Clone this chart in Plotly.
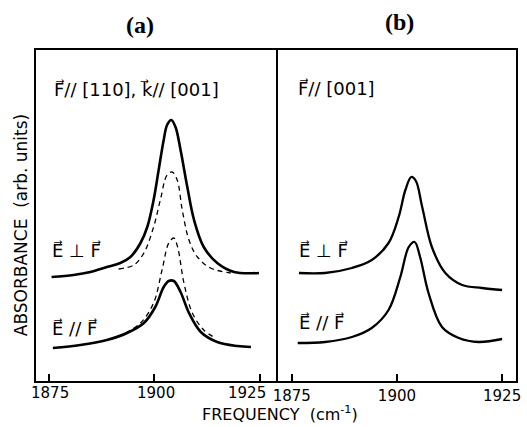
import plotly.graph_objects as go

# ---- data (frequency in cm^-1, absorbance in arbitrary units) ----
a_perp_solid_f = [1875.6, 1880.8, 1884.8, 1888.7, 1891.9, 1894.3, 1896.7, 1898.3, 1899.8, 1901.0,
                  1902.2, 1903.0, 1904.0, 1905.0, 1906.2, 1907.8, 1909.4, 1911.7, 1914.9, 1918.9, 1924.8]
a_perp_solid_y = [104, 106, 109, 114, 118, 124, 138, 154, 181, 211,
                  241, 256, 261, 254, 231, 194, 161, 134, 118, 109, 108]

a_perp_dash_f = [1891.5, 1895.1, 1897.5, 1899.8, 1901.4, 1903.0, 1904.2, 1905.4, 1906.6, 1908.2,
                 1910.2, 1913.3, 1918.1]
a_perp_dash_y = [112, 116, 128, 154, 181, 206, 209, 201, 171, 141,
                 124, 113, 108]

a_par_solid_f = [1875.9, 1882.4, 1888.7, 1893.5, 1897.5, 1900.2, 1902.2, 1903.4, 1904.6, 1906.2,
                 1908.2, 1911.0, 1914.9, 1919.7, 1922.9]
a_par_solid_y = [33, 36, 41, 48, 58, 74, 94, 100, 100, 89,
                 68, 49, 39, 35, 34]

a_par_dash_f = [1893.1, 1896.7, 1899.8, 1901.8, 1903.4, 1904.6, 1905.5, 1907.0, 1909.0, 1911.7, 1914.5]
a_par_dash_y = [48, 58, 78, 111, 138, 143, 134, 98, 68, 51, 43]

b_perp_f = [1876.7, 1882.9, 1889.3, 1894.0, 1898.0, 1900.4, 1902.0, 1903.4, 1904.5, 1906.0,
            1908.3, 1911.5, 1915.5, 1920.2, 1925.0]
b_perp_y = [108, 108, 113, 121, 138, 164, 191, 204, 200, 174,
            134, 108, 96, 93, 91]

b_par_f = [1876.4, 1882.9, 1889.3, 1894.0, 1898.0, 1900.8, 1902.8, 1904.2, 1905.5, 1907.5,
           1910.7, 1914.7, 1919.4, 1925.0]
b_par_y = [38, 39, 44, 53, 71, 104, 134, 139, 124, 88,
           54, 43, 39, 42]

tick_vals = [1875, 1900, 1925]
tick_text = ["1875", "1900", "1925"]

ARROW = "\u20d7"
E = "E" + ARROW
F = "F" + ARROW
K = "k" + ARROW

fig = go.Figure()

solid = dict(color="black", width=2.6)
dash = dict(color="black", width=1.3, dash="5px,4px")

fig.add_trace(go.Scatter(x=a_perp_solid_f, y=a_perp_solid_y, mode="lines", line=solid,
                         line_shape="spline", xaxis="x", yaxis="y"))
fig.add_trace(go.Scatter(x=a_perp_dash_f, y=a_perp_dash_y, mode="lines", line=dash,
                         line_shape="spline", xaxis="x", yaxis="y"))
fig.add_trace(go.Scatter(x=a_par_solid_f, y=a_par_solid_y, mode="lines", line=solid,
                         line_shape="spline", xaxis="x", yaxis="y"))
fig.add_trace(go.Scatter(x=a_par_dash_f, y=a_par_dash_y, mode="lines", line=dash,
                         line_shape="spline", xaxis="x", yaxis="y"))
fig.add_trace(go.Scatter(x=b_perp_f, y=b_perp_y, mode="lines", line=dict(color="black", width=2.3),
                         line_shape="spline", xaxis="x2", yaxis="y2"))
fig.add_trace(go.Scatter(x=b_par_f, y=b_par_y, mode="lines", line=dict(color="black", width=2.3),
                         line_shape="spline", xaxis="x2", yaxis="y2"))

tickfont = dict(family="DejaVu Sans", size=15, color="black")
xcommon = dict(tickvals=tick_vals, ticktext=tick_text, ticks="inside", ticklen=7, tickwidth=1.5,
               tickcolor="black", showline=True, linecolor="black", linewidth=1.5, mirror=True,
               showgrid=False, zeroline=False, tickfont=tickfont, automargin=False)
ycommon = dict(range=[0, 331], showline=True, linecolor="black", linewidth=1.5,
               showgrid=False, zeroline=False, showticklabels=False, ticks="", automargin=False)

fig.update_layout(
    width=527, height=427,
    margin=dict(l=36, r=11, t=50, b=46, autoexpand=False),
    paper_bgcolor="white", plot_bgcolor="white",
    showlegend=False,
    xaxis=dict(domain=[0, 0.504], range=[1871.9, 1929.3], anchor="y",
               showticklabels=False, **xcommon),
    xaxis2=dict(domain=[0.504, 1], range=[1871.7, 1928.3], anchor="y2", **xcommon),
    yaxis=dict(anchor="x", mirror=False, **ycommon),
    yaxis2=dict(anchor="x2", mirror=True, **ycommon),
)

lab = dict(family="DejaVu Sans", size=18, color="black")
anns = [
    dict(x=1875.6, y=292, xref="x", yref="y", text=F + "// [110], " + K + "// [001]",
         xanchor="left", yanchor="middle", showarrow=False, font=lab),
    dict(x=1875.3, y=131, xref="x", yref="y", text=E + " \u22a5 " + F,
         xanchor="left", yanchor="middle", showarrow=False, font=lab),
    dict(x=1875.3, y=53, xref="x", yref="y", text=E + " // " + F,
         xanchor="left", yanchor="middle", showarrow=False, font=lab),
    dict(x=1876.0, y=293, xref="x2", yref="y2", text=F + "// [001]",
         xanchor="left", yanchor="middle", showarrow=False, font=lab),
    dict(x=1876.3, y=131, xref="x2", yref="y2", text=E + " \u22a5 " + F,
         xanchor="left", yanchor="middle", showarrow=False, font=lab),
    dict(x=1876.3, y=59, xref="x2", yref="y2", text=E + " // " + F,
         xanchor="left", yanchor="middle", showarrow=False, font=lab),
    dict(x=0.2167, y=1.0755, xref="paper", yref="paper", text="<b>(a)</b>",
         xanchor="center", yanchor="middle", showarrow=False,
         font=dict(family="Liberation Serif", size=24, color="black")),
    dict(x=0.758, y=1.0846, xref="paper", yref="paper", text="<b>(b)</b>",
         xanchor="center", yanchor="middle", showarrow=False,
         font=dict(family="Liberation Serif", size=24, color="black")),
    dict(x=-0.031, y=0.471, xref="paper", yref="paper", text="ABSORBANCE  (arb. units)",
         textangle=-90, xanchor="center", yanchor="middle", showarrow=False,
         font=dict(family="DejaVu Sans", size=17, color="black")),
    dict(x=0.508, y=-0.099, xref="paper", yref="paper", text="FREQUENCY  (cm<sup>-1</sup>)",
         xanchor="center", yanchor="middle", showarrow=False,
         font=dict(family="DejaVu Sans", size=16, color="black")),
]
# tick labels of panel (a); the last one sits a little left of its tick, as in the original
shifts = [1, 2, -13]
for v, t, s in zip(tick_vals, tick_text, shifts):
    anns.append(dict(x=v, y=-0.036, xref="x", yref="paper", text=t, xshift=s,
                     xanchor="center", yanchor="middle", showarrow=False, font=tickfont))
fig.update_layout(annotations=anns)

fig.write_html("out.html")
